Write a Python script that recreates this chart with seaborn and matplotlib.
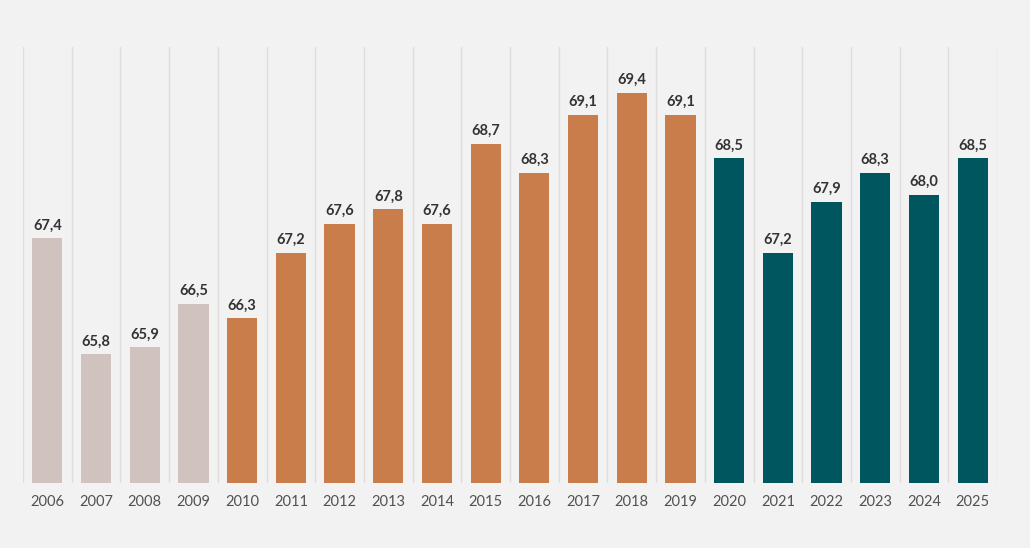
import matplotlib
matplotlib.use("Agg")
import matplotlib.pyplot as plt
import seaborn as sns
import pandas as pd
import numpy as np

years = [str(y) for y in range(2006, 2026)]
values = [67.4, 65.8, 65.9, 66.5, 66.3, 67.2, 67.6, 67.8, 67.6, 68.7,
          68.3, 69.1, 69.4, 69.1, 68.5, 67.2, 67.9, 68.3, 68.0, 68.5]
groups = ["a"] * 4 + ["b"] * 10 + ["c"] * 6
palette = {"a": "#cfc2bf", "b": "#c97d4b", "c": "#00565e"}

df = pd.DataFrame({"year": years, "value": values, "group": groups})

sns.set_theme(style="white")
plt.rcParams["font.family"] = ["Lato", "DejaVu Sans"]

fig = plt.figure(figsize=(10.3, 5.48), dpi=100, facecolor="#f2f2f2")
ax = fig.add_axes([23/1030, 1 - 483/548, 974/1030, 436/548])
ax.set_facecolor("#f2f2f2")

sns.barplot(data=df, x="year", y="value", hue="group", palette=palette,
            dodge=False, width=0.62, legend=False, ax=ax, zorder=3,
            saturation=1, linewidth=0)

ax.set_ylim(64.03, 70.03)
ax.set_xlim(-0.5, len(years) - 0.5)

for cont in ax.containers:
    labs = [f"{v:.1f}".replace(".", ",") if not np.isnan(v) else "" for v in cont.datavalues]
    ax.bar_label(cont, labels=labs, padding=4, fontsize=10.5, fontweight="bold",
                 color="#333333")

ax.set_xticks(np.arange(-0.5, len(years)), minor=True)
ax.grid(which="minor", axis="x", color="#e2dcdc", linewidth=1, zorder=0)
ax.grid(which="major", visible=False)
ax.tick_params(axis="x", which="both", length=0, pad=9, labelsize=10.5, labelcolor="#555050")
ax.set_yticks([])
ax.set_xlabel("")
ax.set_ylabel("")
for s in ax.spines.values():
    s.set_visible(False)

fig.savefig("out.png", dpi=100, facecolor=fig.get_facecolor())
